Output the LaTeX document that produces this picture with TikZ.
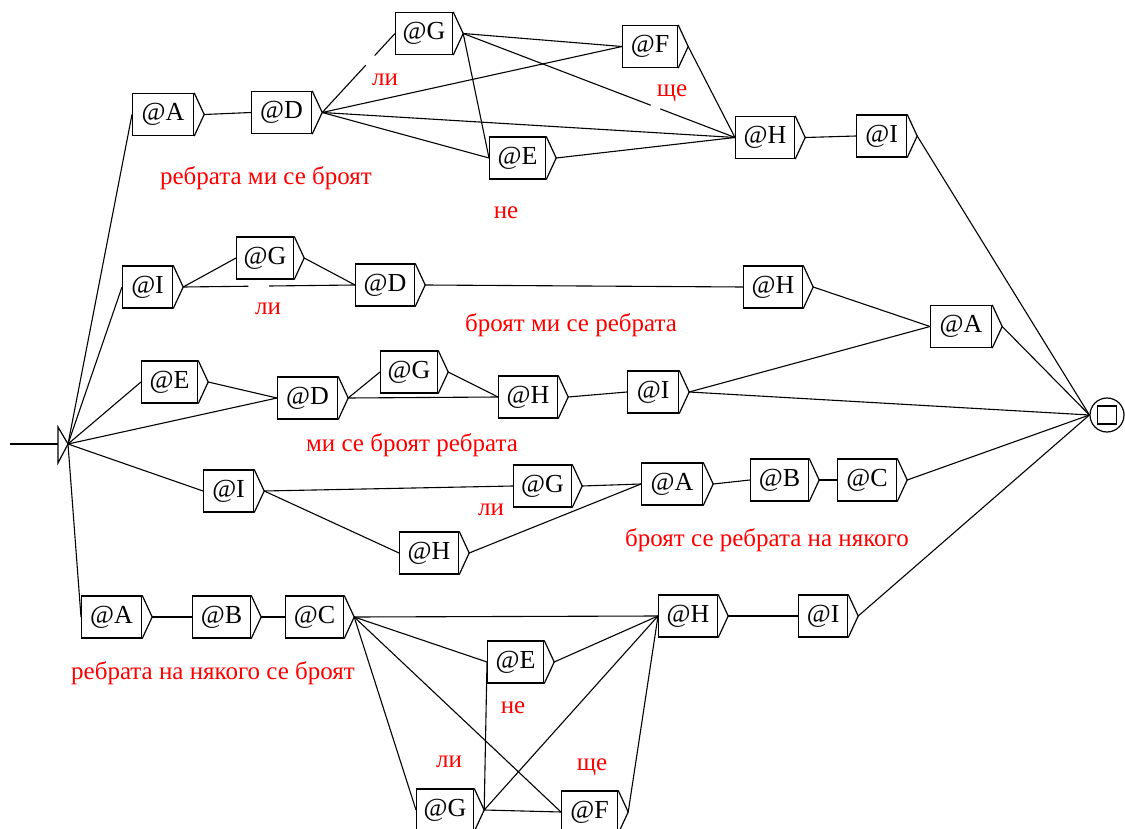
\documentclass[tikz,border=0pt]{standalone}
\usepackage{fontspec}
\setmainfont{Liberation Serif}
\usetikzlibrary{calc}

% A graph box: rectangle with a small output triangle on its right side.
% #1 name, #2 left x, #3 centre y, #4 text, #5 width
\newcommand\UBox[5]{%
  \node[ubox, minimum width=#5] (#1) at (#2,#3) {#4};
  \coordinate (#1t) at ($(#1.east)+(10,0)$);
  \draw[boxline] (#1.north east) -- (#1t) -- (#1.south east);
}

\begin{document}
\begin{tikzpicture}[x=1pt, y=-1pt,
  boxline/.style={line width=1.2pt, line join=miter},
  ubox/.style={draw, line width=1.2pt, rectangle, inner sep=0pt, anchor=west,
    minimum height=42pt, font=\fontsize{26}{26}\selectfont},
  edge/.style={line width=1.1pt},
  gap/.style={white, line width=4pt},
  note/.style={text=red, font=\fontsize{25}{25}\selectfont, inner sep=0pt}]

\useasboundingbox (0,0) rectangle (1125,829);
\fill[white] (0,0) rectangle (1125,829);
\clip (0,0) rectangle (1125,829);

% initial state
\coordinate (sin) at (10,444);
\coordinate (sb) at (58,444);
\coordinate (stt) at (68,444);
\draw[boxline] (58,427) -- (stt) -- (58,463) -- cycle;
\draw[edge] (sin) -- (sb);

% final state
\node[draw, circle, line width=1.2pt, minimum size=34pt, inner sep=0pt] (fin) at (1107,415) {};
\node[draw, line width=1.2pt, minimum width=19pt, minimum height=18pt, inner sep=0pt] (finsq) at (fin.center) {};

% branch 1
\UBox{a1}{132}{114.5}{@A}{61pt}
\UBox{d1}{251}{112.5}{@D}{60pt}
\UBox{g1}{395}{33.5}{@G}{57pt}
\UBox{f1}{622}{46.5}{@F}{55pt}
\UBox{e1}{489}{158}{@E}{56pt}
\UBox{h1}{735}{137.5}{@H}{59pt}
\UBox{i1}{856}{136}{@I}{50pt}

% branch 2
\UBox{i2}{122}{287}{@I}{50pt}
\UBox{g2}{236}{258}{@G}{57pt}
\UBox{d2}{355}{285}{@D}{59pt}
\UBox{h2}{743}{287}{@H}{59pt}
\UBox{a2}{930}{326.5}{@A}{61pt}

% branch 3
\UBox{e3}{141}{382}{@E}{56pt}
\UBox{d3}{277}{398}{@D}{60pt}
\UBox{g3}{380}{372}{@G}{57pt}
\UBox{h3}{498}{397}{@H}{59pt}
\UBox{i3}{627}{392}{@I}{51pt}

% branch 4
\UBox{i4}{203}{491}{@I}{50pt}
\UBox{g4}{513}{486}{@G}{58pt}
\UBox{h4}{399}{553}{@H}{59pt}
\UBox{a4}{641}{484}{@A}{61pt}
\UBox{b4}{750}{480}{@B}{58pt}
\UBox{c4}{837}{480}{@C}{59pt}

% branch 5
\UBox{a5}{81}{617}{@A}{60pt}
\UBox{b5}{192}{617}{@B}{58pt}
\UBox{c5}{285}{617}{@C}{58pt}
\UBox{h5}{658}{616}{@H}{59pt}
\UBox{i5}{798}{616}{@I}{49pt}
\UBox{e5}{487}{662}{@E}{56pt}
\UBox{g5}{416}{810}{@G}{57pt}
\UBox{f5}{561}{812}{@F}{56pt}

% transitions
\foreach \p/\q in {stt/a1, stt/i2, stt/e3, stt/d3, stt/i4, stt/a5,
  a1t/d1, d1t/g1, d1t/f1, d1t/h1, d1t/e1, g1t/f1, g1t/h1, g1t/e1,
  f1t/h1, e1t/h1, h1t/i1, i1t/fin,
  i2t/g2, i2t/d2, g2t/d2, d2t/h2, h2t/a2, a2t/fin,
  e3t/d3, d3t/g3, d3t/h3, g3t/h3, h3t/i3, i3t/a2, i3t/fin,
  i4t/g4, i4t/h4, g4t/a4, h4t/a4, a4t/b4, b4t/c4, c4t/fin,
  a5t/b5, b5t/c5, c5t/h5, c5t/e5, c5t/g5, c5t/f5, e5t/h5,
  g5t/e5, g5t/h5, g5t/f5, f5t/h5, h5t/i5, i5t/fin}
  \draw[edge] (\p) -- (\q.west);

% breaks in some transitions left by the comment boxes
\draw[gap] ($(d1t)!0.60!(g1.west)$) -- ($(d1t)!0.72!(g1.west)$);
\draw[gap] ($(g1t)!0.69!(h1.west)$) -- ($(g1t)!0.725!(h1.west)$);
\draw[gap] ($(i2t)!0.38!(d2.west)$) -- ($(i2t)!0.50!(d2.west)$);

% comments
\node[note] (c1) at (266,178) {ребрата ми се броят};
\node[note] (c1li) at (385,80) {ли};
\node[note] (c1ne) at (506,213) {не};
\node[note] (c1shte) at (672,93) {ще};
\node[note] (c2) at (571,325) {броят ми се ребрата};
\node[note] (c2li) at (268,309) {ли};
\node[note] (c3) at (412,445) {ми се броят ребрата};
\node[note] (c4) at (767,540) {броят се ребрата на някого};
\node[note] (c4li) at (491,510) {ли};
\node[note] (c5) at (213,673) {ребрата на някого се броят};
\node[note] (c5ne) at (513,708) {не};
\node[note] (c5li) at (449,762) {ли};
\node[note] (c5shte) at (592,767) {ще};
\end{tikzpicture}
\end{document}
